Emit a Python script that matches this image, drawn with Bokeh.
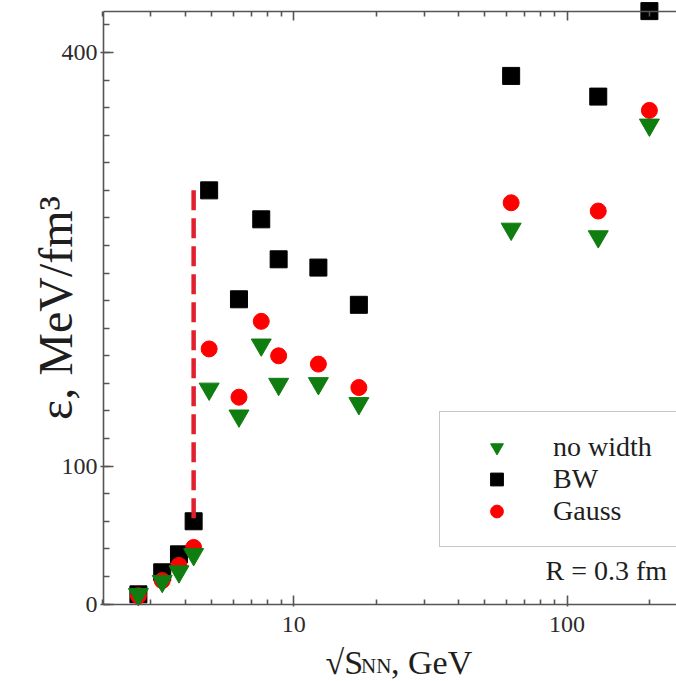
import math
from bokeh.plotting import figure
from bokeh.models import (Range1d, FixedTicker, LogAxis, Label, Legend, LegendItem,
                          ColumnDataSource)
from bokeh.embed import file_html
from bokeh.resources import INLINE

# ---- data ----
sqrt_s = [2.7, 3.3, 3.8, 4.3, 4.9, 6.3, 7.6, 8.8, 12.3, 17.3, 62.4, 130.0, 200.0]
eps_no_width = [7, 16.5, 23.5, 36, 156, 136.5, 188, 159.5, 160, 145.5, 272, 266.5, 347.5]
eps_bw = [7, 23, 36, 60, 300, 221, 279, 250, 244, 217, 383, 368, 430]
eps_gauss = [6, 17, 28, 41, 185, 150, 205, 180, 174, 157, 291, 285, 358]
transition_x = [4.3, 4.3]
transition_y = [300, 60]

x_major_ticks = [10, 100]
x_minor_ticks = [2, 3, 4, 5, 6, 7, 8, 9, 20, 30, 40, 50, 60, 70, 80, 90, 200]
y_major_ticks = [0, 100, 400]
y_minor_ticks = list(range(0, 440, 20))

legend_labels = ["no width", "BW", "Gauss"]
y_label = "ε, MeV/fm³"
x_label_parts = ["√S", "NN", ", GeV"]
note_text = "R = 0.3 fm"

# axes box (data units)
X_AX_MIN, X_AX_MAX = 2.0127, 251.3
Y_AX_MIN, Y_AX_MAX = 0, 430

FONT = "Liberation Serif"
AXIS_COLOR = "#555555"
TEXT_COLOR = "#1e1e1e"

p = figure(width=676, height=681, x_axis_type="log",
           x_range=Range1d(0.8449, 251.3), y_range=Range1d(-56.2, 437.7),
           output_backend="svg", toolbar_location=None,
           min_border=0, min_border_left=0, min_border_right=0,
           min_border_top=0, min_border_bottom=0,
           outline_line_color=None, background_fill_color="white", border_fill_color="white")
p.grid.visible = False

xa = p.xaxis[0]
ya = p.yaxis[0]
for ax in (xa, ya):
    ax.axis_line_color = AXIS_COLOR
    ax.axis_line_width = 1.6
    ax.major_tick_line_color = AXIS_COLOR
    ax.major_tick_line_width = 1.6
    ax.minor_tick_line_color = AXIS_COLOR
    ax.minor_tick_line_width = 1.6
    ax.major_label_text_font = FONT
    ax.major_label_text_font_size = "24px"
    ax.major_label_text_color = "#2b2b2b"

xa.ticker = FixedTicker(ticks=x_major_ticks, minor_ticks=x_minor_ticks)
xa.major_label_overrides = {10: "10", 100: "100"}
xa.fixed_location = Y_AX_MIN
xa.bounds = (X_AX_MIN, X_AX_MAX)
xa.major_tick_in = 9
xa.major_tick_out = 2
xa.minor_tick_in = 5
xa.minor_tick_out = 0
xa.major_label_standoff = 11

ya.ticker = FixedTicker(ticks=y_major_ticks, minor_ticks=y_minor_ticks)
ya.fixed_location = X_AX_MIN
ya.bounds = (Y_AX_MIN, Y_AX_MAX)
ya.major_tick_in = 10
ya.major_tick_out = 3
ya.minor_tick_in = 6
ya.minor_tick_out = 0
ya.major_label_standoff = 3

top = LogAxis(ticker=FixedTicker(ticks=x_major_ticks, minor_ticks=x_minor_ticks),
              fixed_location=Y_AX_MAX, bounds=(X_AX_MIN, X_AX_MAX),
              major_label_text_font_size="1px", major_label_text_color=None,
              major_label_standoff=0,
              major_tick_in=9, major_tick_out=0, minor_tick_in=5, minor_tick_out=0,
              axis_line_color=AXIS_COLOR, axis_line_width=1.6,
              major_tick_line_color=AXIS_COLOR, major_tick_line_width=1.6,
              minor_tick_line_color=AXIS_COLOR, minor_tick_line_width=1.6)
p.add_layout(top, "above")

src = ColumnDataSource(dict(x=sqrt_s, bw=eps_bw, gauss=eps_gauss, nw=eps_no_width))
r_bw = p.scatter("x", "bw", source=src, marker="square", size=17,
                 fill_color="black", line_color="black")
r_g = p.scatter("x", "gauss", source=src, marker="circle", size=16,
                fill_color="#ff0000", line_color="#ff0000")
r_nw = p.scatter("x", "nw", source=src, marker="inverted_triangle", size=20,
                 fill_color="#0f7d0f", line_color="#0f7d0f")

p.line(transition_x, transition_y, line_color="#e0202c", line_width=4.5, line_dash="20 8")

legend = Legend(items=[LegendItem(label=legend_labels[0], renderers=[r_nw]),
                       LegendItem(label=legend_labels[1], renderers=[r_bw]),
                       LegendItem(label=legend_labels[2], renderers=[r_g])],
                location=(439, 134), orientation="vertical", padding=19, margin=0,
                spacing=0, glyph_width=75, glyph_height=32, label_standoff=19,
                label_width=150, label_height=32,
                label_text_font=FONT, label_text_font_size="28px",
                label_text_color=TEXT_COLOR,
                border_line_color="#8f8f8f", border_line_width=1.5,
                background_fill_color="white", background_fill_alpha=1.0)
p.add_layout(legend, "center")

# screen units: measured from the frame's left / bottom edge (frame == canvas here)
p.add_layout(Label(x=55, y=373.5, x_units="screen", y_units="screen", text=y_label,
                   angle=math.pi / 2, text_align="center", text_baseline="middle",
                   text_font=FONT, text_font_size="48px", text_color=TEXT_COLOR))
p.add_layout(Label(x=325, y=19, x_units="screen", y_units="screen", text=x_label_parts[0],
                   text_align="left", text_baseline="middle",
                   text_font=FONT, text_font_size="34px", text_color=TEXT_COLOR))
p.add_layout(Label(x=360.5, y=15.5, x_units="screen", y_units="screen", text=x_label_parts[1],
                   text_align="left", text_baseline="middle",
                   text_font=FONT, text_font_size="21px", text_color=TEXT_COLOR))
p.add_layout(Label(x=390.5, y=19, x_units="screen", y_units="screen", text=x_label_parts[2],
                   text_align="left", text_baseline="middle",
                   text_font=FONT, text_font_size="34px", text_color=TEXT_COLOR))
p.add_layout(Label(x=545, y=111.5, x_units="screen", y_units="screen", text=note_text,
                   text_align="left", text_baseline="middle",
                   text_font=FONT, text_font_size="28px", text_color=TEXT_COLOR))

open("out.html", "w").write(file_html(p, INLINE))
